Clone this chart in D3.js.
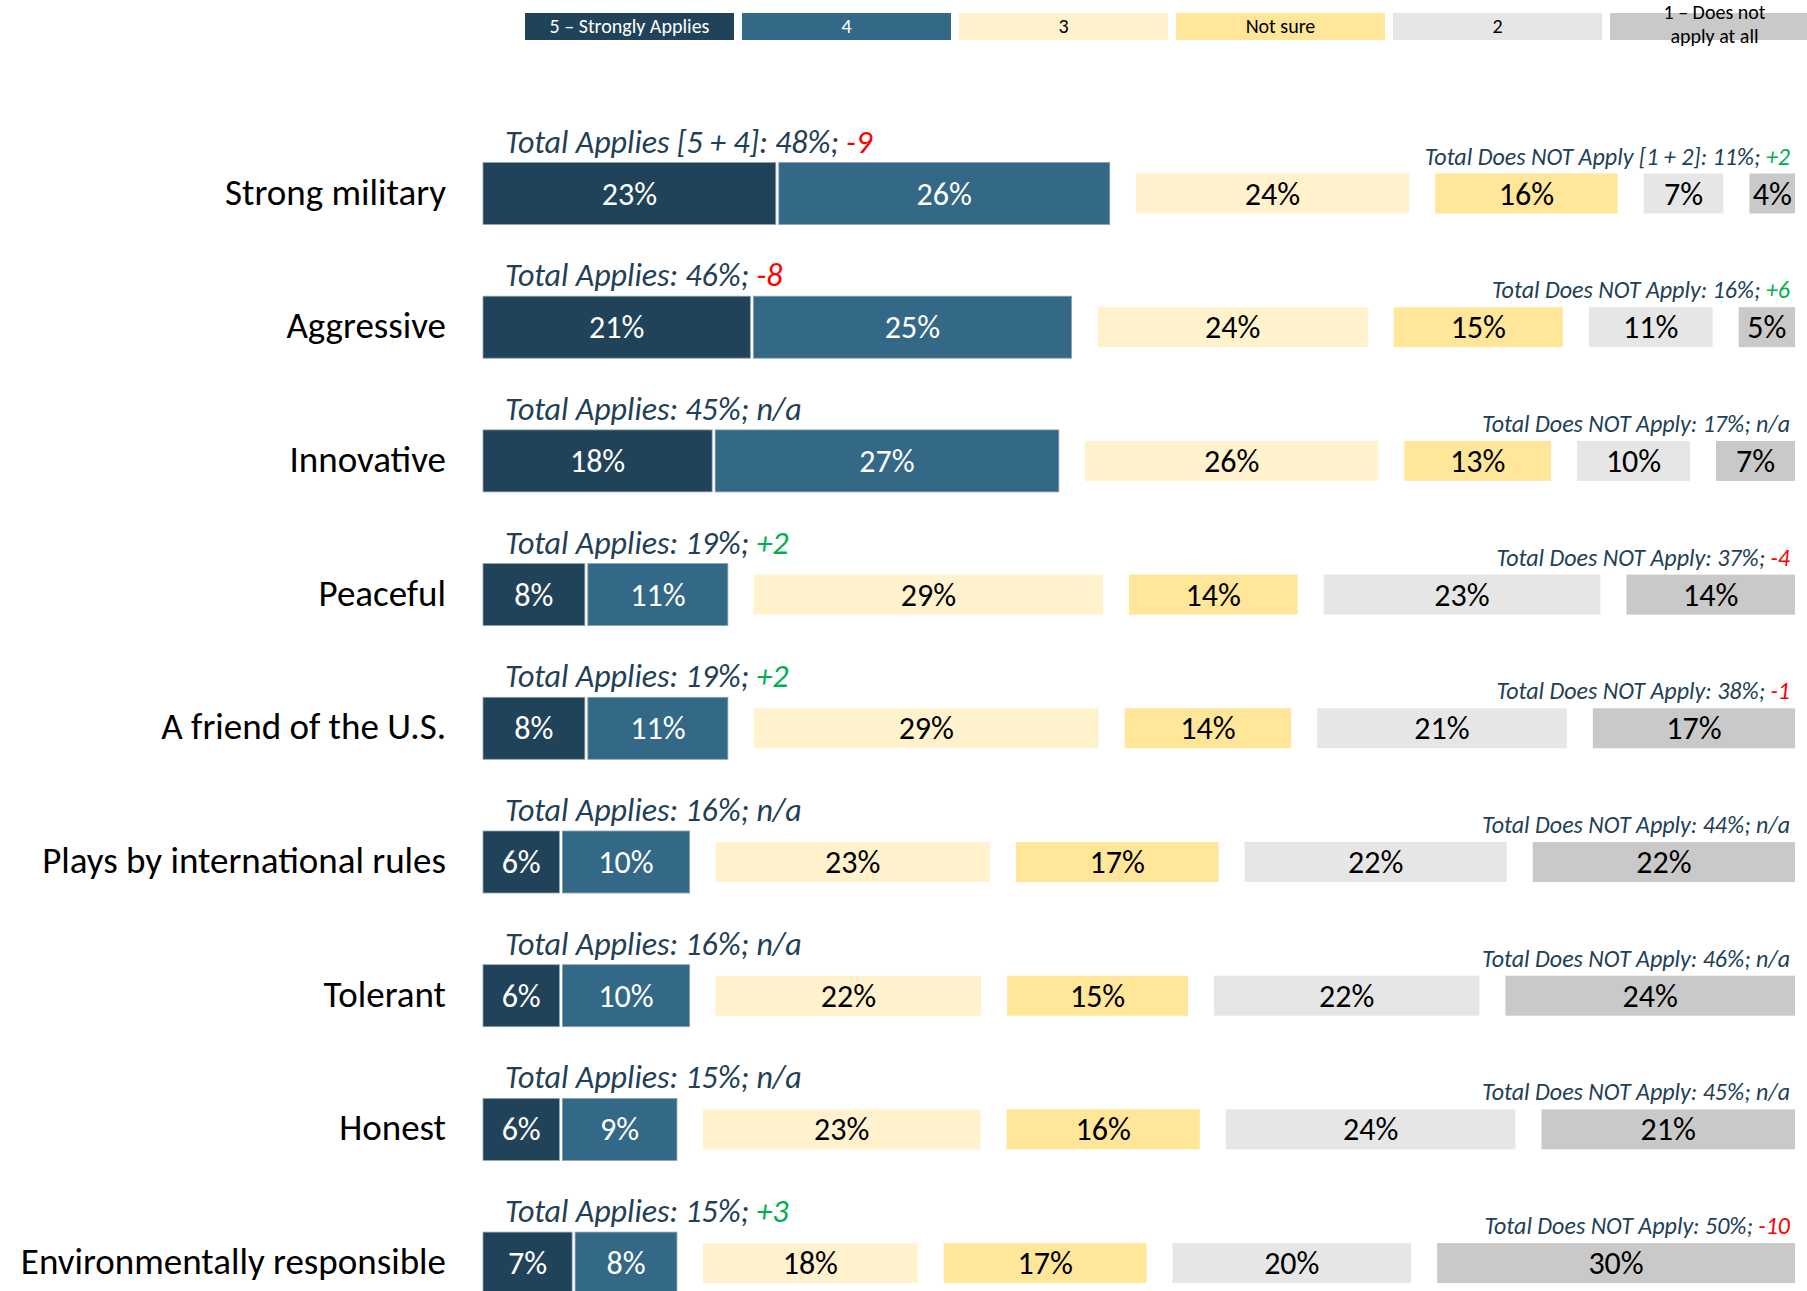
<!DOCTYPE html>
<html>
<head>
<meta charset="utf-8">
<script src="https://cdn.jsdelivr.net/npm/d3@7"></script>
<style>
  body { margin: 0; background: #fff; }
  svg { display: block; font-family: Carlito, Calibri, Lato, sans-serif; }
</style>
</head>
<body>
<svg class="chart"></svg>
<script>
var categories = ["Strong military", "Aggressive", "Innovative", "Peaceful", "A friend of the U.S.",
  "Plays by international rules", "Tolerant", "Honest", "Environmentally responsible"];
var legendLabels = ["5 – Strongly Applies", "4", "3", "Not sure", "2", "1 – Does not|apply at all"];
var s5 = [23, 21, 18, 8, 8, 6, 6, 6, 7];
var s4 = [26, 25, 27, 11, 11, 10, 10, 9, 8];
var s3 = [24, 24, 26, 29, 29, 23, 22, 23, 18];
var sNotSure = [16, 15, 13, 14, 14, 17, 15, 16, 17];
var s2 = [7, 11, 10, 23, 21, 22, 22, 24, 20];
var s1 = [4, 5, 7, 14, 17, 22, 24, 21, 30];
var applyTotal = [48, 46, 45, 19, 19, 16, 16, 15, 15];
var applyChange = ["-9", "-8", "n/a", "+2", "+2", "n/a", "n/a", "n/a", "+3"];
var notTotal = [11, 16, 17, 37, 38, 44, 46, 45, 50];
var notChange = ["+2", "+6", "n/a", "-4", "-1", "n/a", "n/a", "n/a", "-10"];

var colors = ["#21435a", "#336886", "#fff2cc", "#ffe699", "#e6e6e6", "#c9c9c9"];
var textColors = ["#fff", "#fff", "#000", "#000", "#000", "#000"];
var navy = "#223f56";

var W = 1807, H = 1291;
var svg = d3.select(".chart").attr("width", W).attr("height", H);

// legend
var legendX = d3.scaleBand().domain(d3.range(6)).range([525, 1819]).paddingInner(0.037);
var leg = svg.selectAll(".legend").data(legendLabels).enter().append("g")
    .attr("class", "legend")
    .attr("transform", function(d, i) { return "translate(" + legendX(i) + ",13)"; });
leg.append("rect")
    .attr("width", legendX.bandwidth())
    .attr("height", 27)
    .attr("fill", function(d, i) { return colors[i]; });
leg.append("text")
    .attr("x", legendX.bandwidth() / 2)
    .attr("text-anchor", "middle")
    .attr("font-size", 20)
    .attr("fill", function(d, i) { return textColors[i]; })
    .each(function(d) {
      var lines = d.split("|");
      var t = d3.select(this);
      lines.forEach(function(l, k) {
        t.append("tspan").attr("x", legendX.bandwidth() / 2)
          .attr("y", lines.length == 1 ? 20 : 6 + k * 24)
          .text(l);
      });
    });

// rows
var rowY = d3.scaleLinear().domain([0, 1]).range([193.5, 327.2]);
var x0 = 483, x1 = 1795, gap = 26, innerGap = 3;
var tallH = 62, shortH = 40;
// tall bars (5 and 4) share one scale, the rest fill what is left of each row
var xa = d3.scaleLinear().domain([0, 100]).range([0, 1273]);

var rows = categories.map(function(c, i) {
  var segs = [];
  segs.push({ k: 0, v: s5[i], x: x0, w: xa(s5[i]) });
  segs.push({ k: 1, v: s4[i], x: x0 + xa(s5[i]) + innerGap, w: xa(s4[i]) });
  var right = [s3[i], sNotSure[i], s2[i], s1[i]];
  var start = x0 + xa(s5[i]) + innerGap + xa(s4[i]) + gap;
  var xb = d3.scaleLinear().domain([0, d3.sum(right)]).range([0, x1 - start - 3 * gap]);
  var pos = start;
  right.forEach(function(v, k) {
    segs.push({ k: k + 2, v: v, x: pos, w: xb(v) });
    pos += xb(v) + gap;
  });
  return { name: c, i: i, segs: segs };
});

var row = svg.selectAll(".row").data(rows).enter().append("g")
    .attr("class", "row")
    .attr("transform", function(d) { return "translate(0," + rowY(d.i) + ")"; });

row.append("text")
    .attr("x", 446)
    .attr("y", 11)
    .attr("text-anchor", "end")
    .attr("font-size", 37)
    .attr("fill", "#000")
    .text(function(d) { return d.name; });

var seg = row.selectAll(".seg").data(function(d) { return d.segs; }).enter().append("g")
    .attr("class", "seg");

seg.append("rect")
    .attr("x", function(d) { return d.x; })
    .attr("y", function(d) { return d.k < 2 ? -tallH / 2 : -shortH / 2; })
    .attr("width", function(d) { return d.w; })
    .attr("height", function(d) { return d.k < 2 ? tallH : shortH; })
    .attr("fill", function(d) { return colors[d.k]; })
    .attr("stroke", function(d) { return d.k < 2 ? "#8ea3b3" : "none"; })
    .attr("stroke-width", 0.8);

seg.append("text")
    .attr("x", function(d) { return d.x + d.w / 2; })
    .attr("y", 11)
    .attr("text-anchor", "middle")
    .attr("font-size", 32)
    .attr("fill", function(d) { return textColors[d.k]; })
    .text(function(d) { return d.v + "%"; });

function changeColor(c) {
  if (c.charAt(0) == "+") return "#00b050";
  if (c.charAt(0) == "-") return "#ff0000";
  return navy;
}

var applies = row.append("text")
    .attr("x", 505)
    .attr("y", -41)
    .attr("font-size", 32)
    .attr("font-style", "italic")
    .attr("fill", navy);
applies.append("tspan").text(function(d) {
  return (d.i == 0 ? "Total Applies [5 + 4]: " : "Total Applies: ") + applyTotal[d.i] + "%; ";
});
applies.append("tspan")
    .attr("fill", function(d) { return changeColor(applyChange[d.i]); })
    .text(function(d) { return applyChange[d.i]; });

var notApply = row.append("text")
    .attr("x", 1790)
    .attr("y", -29)
    .attr("text-anchor", "end")
    .attr("font-size", 24)
    .attr("font-style", "italic")
    .attr("fill", navy);
notApply.append("tspan").text(function(d) {
  return (d.i == 0 ? "Total Does NOT Apply [1 + 2]: " : "Total Does NOT Apply: ") + notTotal[d.i] + "%; ";
});
notApply.append("tspan")
    .attr("fill", function(d) { return changeColor(notChange[d.i]); })
    .text(function(d) { return notChange[d.i]; });
</script>
</body>
</html>
